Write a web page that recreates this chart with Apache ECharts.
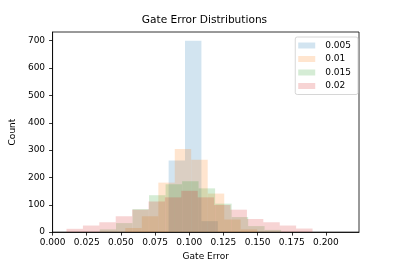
<!DOCTYPE html>
<html><head><meta charset="utf-8">
<script src="https://cdn.jsdelivr.net/npm/echarts@6/dist/echarts.min.js"></script>
<style>html,body{margin:0;padding:0;background:#fff}#c{width:399px;height:266px}</style>
</head><body><div id="c"></div>
<script>
const title = 'Gate Error Distributions';
const xLabel = 'Gate Error';
const yLabel = 'Count';
const xTicks = [0, 0.025, 0.05, 0.075, 0.1, 0.125, 0.15, 0.175, 0.2];
const yTicks = [0, 100, 200, 300, 400, 500, 600, 700];
const seriesNames = ['0.005', '0.01', '0.015', '0.02'];
const binWidth = 0.012;
// bin left edges and counts per series
const bins005 = [0.0849, 0.0969, 0.1089];
const counts005 = [262, 700, 40];
const bins01 = [0.0532, 0.0653, 0.0774, 0.0894, 0.1015, 0.1136, 0.1256, 0.1377];
const counts01 = [15, 58, 181, 304, 265, 141, 46, 10];
const bins015 = [0.0345, 0.0464, 0.0585, 0.0706, 0.0827, 0.0948, 0.1069, 0.1190, 0.1311, 0.1431, 0.1552];
const counts015 = [10, 33, 84, 135, 175, 186, 160, 104, 55, 22, 8];
const bins02 = [0.0102, 0.0222, 0.0342, 0.0462, 0.0582, 0.0702, 0.0822, 0.0942, 0.1062, 0.1182, 0.1302, 0.1422, 0.1542, 0.1662, 0.1782];
const counts02 = [12, 24, 36, 58, 82, 112, 127, 151, 127, 99, 82, 48, 36, 24, 13];
const colors = ['rgba(31,119,180,0.2)', 'rgba(255,127,14,0.2)', 'rgba(44,160,44,0.2)', 'rgba(214,39,40,0.2)'];

const allBins = [bins005, bins01, bins015, bins02];
const allCounts = [counts005, counts01, counts015, counts02];
const FONT = 'DejaVu Sans';
const FS = 9;

function renderBar(params, api) {
  const p0 = api.coord([api.value(0), api.value(2)]);
  const p1 = api.coord([api.value(1), 0]);
  return {
    type: 'rect',
    shape: { x: p0[0], y: p0[1], width: p1[0] - p0[0], height: p1[1] - p0[1] },
    style: { fill: api.visual('color') }
  };
}

const series = seriesNames.map((name, i) => ({
  type: 'custom',
  name: name,
  renderItem: renderBar,
  itemStyle: { color: colors[i] },
  encode: { x: [0, 1], y: 2 },
  clip: true,
  data: allBins[i].map((b, j) => [b, b + binWidth, allCounts[i][j]])
}));

const chart = echarts.init(document.getElementById('c'), null, { renderer: 'canvas' });
chart.setOption({
  animation: false,
  backgroundColor: '#ffffff',
  textStyle: { fontFamily: FONT },
  grid: { left: 50, right: 40, top: 32, bottom: 33, show: true, borderColor: '#000', borderWidth: 0.8, backgroundColor: 'transparent' },
  graphic: [{
    type: 'text', x: 204.5, y: 20,
    style: { text: title, fill: '#000', font: '10.6px "DejaVu Sans"', align: 'center', verticalAlign: 'middle' }
  }],
  legend: {
    orient: 'vertical', right: 41, top: 37,
    data: seriesNames,
    itemWidth: 17, itemHeight: 6, itemGap: 2.5,
    icon: 'rect',
    backgroundColor: '#fff', borderColor: '#cccccc', borderWidth: 0.8, borderRadius: 2,
    padding: [3, 7, 3, 3],
    textStyle: { fontFamily: FONT, fontSize: FS, color: '#000', padding: [0, 0, 0, 5], lineHeight: 11 }
  },
  xAxis: {
    type: 'value', min: 0, max: 0.2242,
    name: xLabel, nameLocation: 'middle', nameGap: 16,
    nameTextStyle: { fontFamily: FONT, fontSize: FS, color: '#000' },
    axisLine: { show: true, lineStyle: { color: '#000', width: 0.8 } },
    axisTick: { show: true, length: 3.5, lineStyle: { color: '#000', width: 0.8 }, customValues: xTicks },
    axisLabel: { fontFamily: FONT, fontSize: FS, color: '#000', margin: 6, customValues: xTicks, formatter: v => v.toFixed(3) },
    splitLine: { show: false }
  },
  yAxis: {
    type: 'value', min: 0, max: 732,
    name: yLabel, nameLocation: 'middle', nameGap: 29, nameRotate: 90,
    nameTextStyle: { fontFamily: FONT, fontSize: FS, color: '#000' },
    axisLine: { show: true, lineStyle: { color: '#000', width: 0.8 } },
    axisTick: { show: true, length: 3.5, lineStyle: { color: '#000', width: 0.8 }, customValues: yTicks },
    axisLabel: { fontFamily: FONT, fontSize: FS, color: '#000', margin: 7.5, customValues: yTicks },
    splitLine: { show: false }
  },
  series: series
});
</script></body></html>
